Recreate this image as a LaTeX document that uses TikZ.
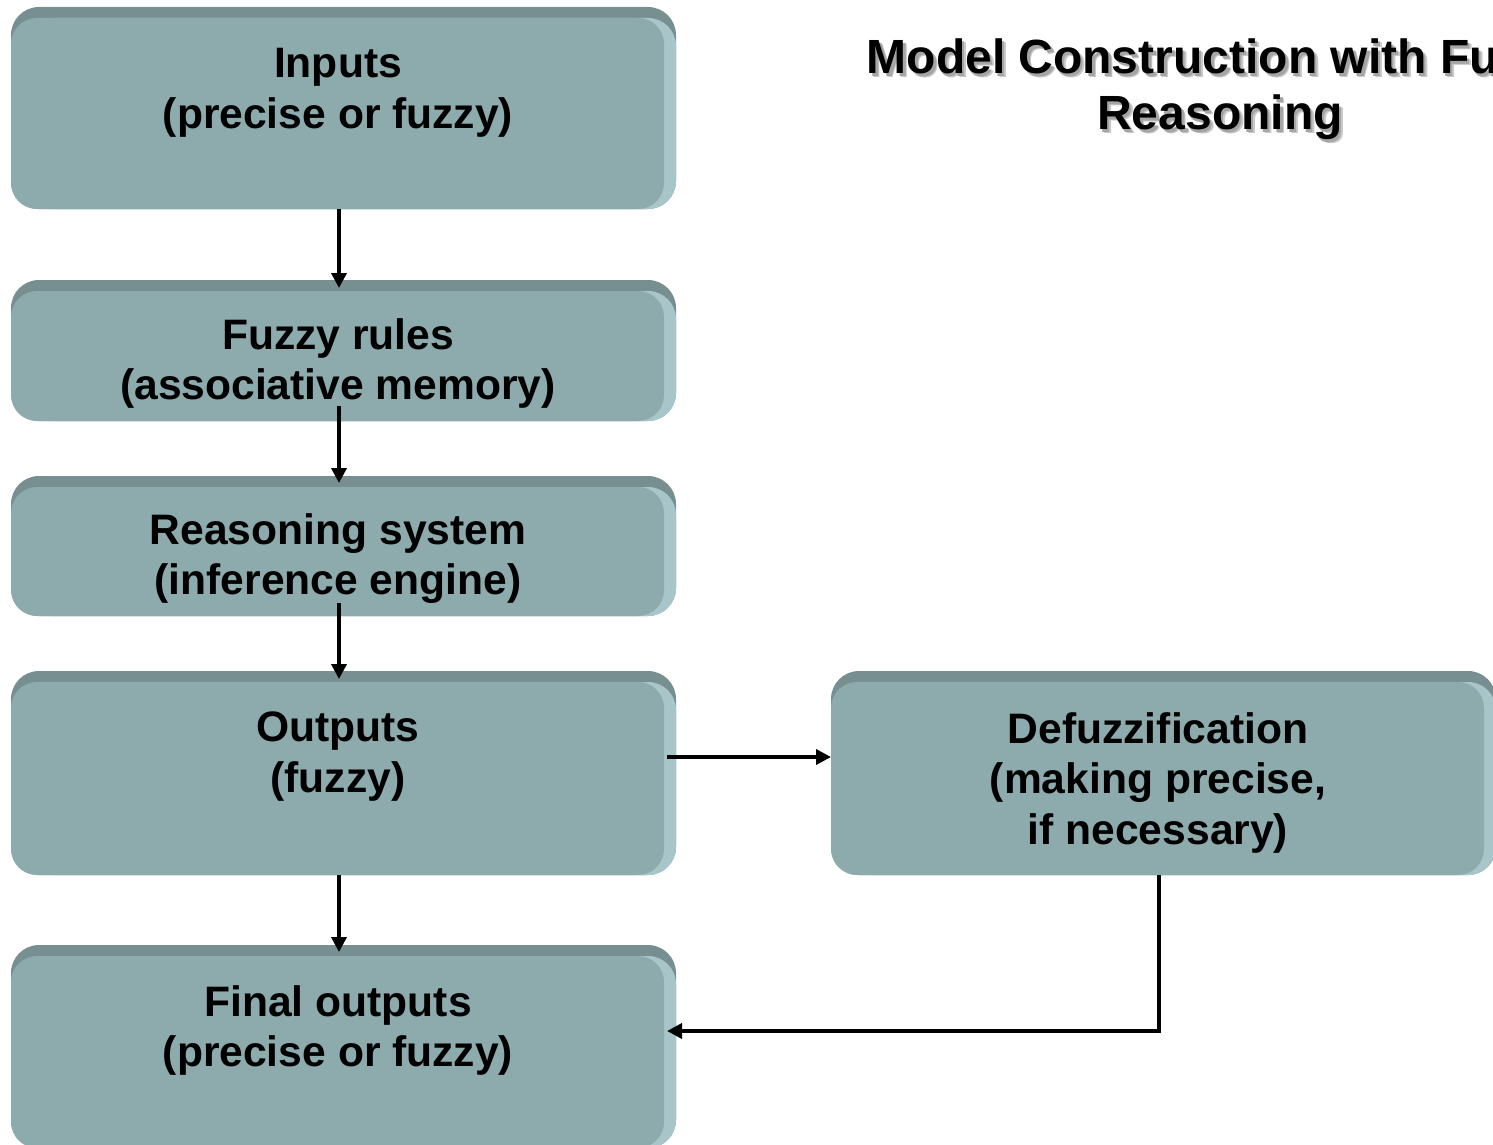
\documentclass[tikz,border=0pt]{standalone}
\usepackage{fontspec}
\setmainfont{Liberation Sans}
\usetikzlibrary{arrows.meta,calc}

\definecolor{boxface}{RGB}{141,170,172}
\definecolor{boxtop}{RGB}{120,143,146}
\definecolor{boxside}{RGB}{168,198,201}
\definecolor{titleshadow}{RGB}{165,165,165}

% bevelled slab: dark top rim, light right rim, flat face
\newcommand\bevelslab[1]{%
  \fill[boxtop, rounded corners=28pt] (#1.south west) rectangle (#1.north east);
  \fill[boxside, rounded corners=28pt] ($(#1.south west)+(12pt,0)$) rectangle ($(#1.north east)+(0,-11pt)$);
  \fill[boxface, rounded corners=26pt] (#1.south west) rectangle ($(#1.north east)+(-12pt,-11pt)$);
}

\tikzset{
  flowbox/.style={rectangle, inner sep=0pt, outer sep=0pt, minimum width=665pt},
  boxlabel/.style={anchor=north, inner sep=0pt, align=center,
    font=\bfseries\fontsize{42.6}{50.5}\selectfont},
  flowarrow/.style={line width=3.6pt, -{Triangle[length=15pt,width=15pt]}},
  titletext/.style={anchor=north, inner sep=0pt, align=center,
    font=\bfseries\fontsize{48}{56}\selectfont},
}

\begin{document}
\begin{tikzpicture}[x=1pt, y=-1pt]
  \useasboundingbox (0,0) rectangle (1493,1145);
  \clip (0,0) rectangle (1493,1145);

  % boxes
  \node[flowbox, minimum height=202pt] (in)  at (343.5,108) {};
  \node[flowbox, minimum height=141pt] (fr)  at (343.5,350.5) {};
  \node[flowbox, minimum height=140pt] (rs)  at (343.5,546) {};
  \node[flowbox, minimum height=204pt] (out) at (343.5,773) {};
  \node[flowbox, minimum height=203pt] (fo)  at (343.5,1046.5) {};
  \node[flowbox, minimum height=204pt] (def) at (1163.5,773) {};

  \bevelslab{in}
  \bevelslab{fr}
  \bevelslab{rs}
  \bevelslab{out}
  \bevelslab{fo}
  \bevelslab{def}

  % box texts
  \node[boxlabel] (in-t)  at ([xshift=-5.5pt, yshift=-41pt]in.north)  {Inputs\\(precise or fuzzy)};
  \node[boxlabel] (fr-t)  at ([xshift=-5.5pt, yshift=-38pt]fr.north)  {Fuzzy rules\\(associative memory)};
  \node[boxlabel] (rs-t)  at ([xshift=-5.5pt, yshift=-37pt]rs.north)  {Reasoning system\\(inference engine)};
  \node[boxlabel] (out-t) at ([xshift=-5.5pt, yshift=-41pt]out.north) {Outputs\\(fuzzy)};
  \node[boxlabel] (fo-t)  at ([xshift=-5.5pt, yshift=-40pt]fo.north)  {Final outputs\\(precise or fuzzy)};
  \node[boxlabel] (def-t) at ([xshift=-5.5pt, yshift=-41pt]def.north) {Defuzzification\\(making precise,\\if necessary)};

  % title with soft drop shadow
  \node[titletext, text=titleshadow!60] (title-s2) at (1224,43) {Model Construction with Fuzzy\\Reasoning};
  \node[titletext, text=titleshadow] (title-s) at (1222.5,41.5) {Model Construction with Fuzzy\\Reasoning};
  \node[titletext] (title) at (1220,39) {Model Construction with Fuzzy\\Reasoning};

  % connectors
  \draw[flowarrow] ([xshift=-4.5pt]in.south) -- ([xshift=-4.5pt, yshift=-8pt]fr.north);
  \draw[flowarrow] ([xshift=-4.5pt, yshift=15pt]fr.south) -- ([xshift=-4.5pt, yshift=-7pt]rs.north);
  \draw[flowarrow] ([xshift=-4.5pt, yshift=13pt]rs.south) -- ([xshift=-4.5pt, yshift=-8pt]out.north);
  \draw[flowarrow] ([xshift=-4.5pt]out.south) -- ([xshift=-4.5pt, yshift=-7pt]fo.north);
  \draw[flowarrow] ([xshift=-9pt, yshift=16pt]out.east) -- ([yshift=16pt]def.west);
  \draw[flowarrow] ([xshift=-4.5pt]def.south) |- ([xshift=-9pt, yshift=15.5pt]fo.east);
\end{tikzpicture}
\end{document}
